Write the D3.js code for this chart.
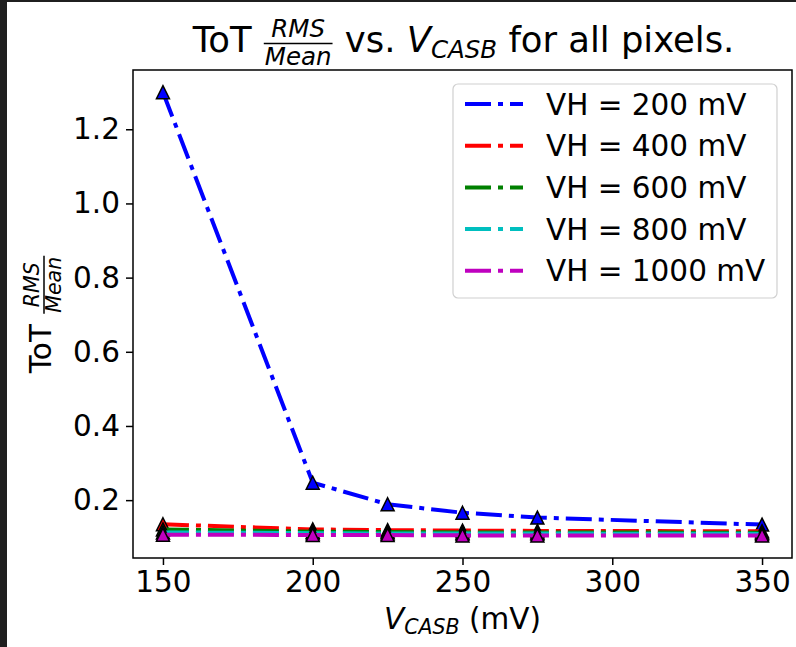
<!DOCTYPE html>
<html><head><meta charset="utf-8">
<script src="https://cdn.jsdelivr.net/npm/d3@7"></script>
<style>
body{margin:0;background:#fff;}
text{font-family:"DejaVu Sans",sans-serif;fill:#000;}
</style></head>
<body>
<svg id="chart" width="796" height="647"></svg>
<script>
const vcasb = [150, 200, 225, 250, 275, 350];
const seriesNames = ["VH = 200 mV", "VH = 400 mV", "VH = 600 mV", "VH = 800 mV", "VH = 1000 mV"];
const vh200  = [1.300, 0.247, 0.189, 0.166, 0.153, 0.134];
const vh400  = [0.135, 0.121, 0.119, 0.118, 0.117, 0.116];
const vh600  = [0.121, 0.115, 0.114, 0.113, 0.113, 0.112];
const vh800  = [0.113, 0.111, 0.110, 0.110, 0.110, 0.109];
const vh1000 = [0.107, 0.106, 0.106, 0.105, 0.105, 0.105];
const seriesValues = [vh200, vh400, vh600, vh800, vh1000];
const colors = ["#0000ff", "#ff0000", "#008000", "#00bfbf", "#bf00bf"];
const xTicks = [150, 200, 250, 300, 350];
const yTicks = [0.2, 0.4, 0.6, 0.8, 1.0, 1.2];

const svg = d3.select("#chart");
// dark frame of the screenshot
svg.append("rect").attr("x",0).attr("y",0).attr("width",796).attr("height",647).attr("fill","#1f1f1f");
svg.append("rect").attr("x",7).attr("y",2).attr("width",789).attr("height",645).attr("fill","#fff");

const L=133, R=792, T=70, B=558;
const x = d3.scaleLinear().domain([140,360]).range([L,R]);
const y = d3.scaleLinear().domain([0.044,1.3598]).range([B,T]);

const BASE = 29.5;
// axes
const gx = svg.append("g").attr("transform",`translate(0,${B})`)
  .call(d3.axisBottom(x).tickValues(xTicks).tickFormat(d3.format("d")).tickSize(7).tickPadding(6));
const gy = svg.append("g").attr("transform",`translate(${L},0)`)
  .call(d3.axisLeft(y).tickValues(yTicks).tickFormat(d3.format(".1f")).tickSize(7).tickPadding(6));
[gx,gy].forEach(g=>{
  g.select(".domain").remove();
  g.selectAll("line").attr("stroke","#000").attr("stroke-width",1.5);
  g.selectAll("text").style("font-size",BASE+"px").style("font-family","DejaVu Sans").attr("fill","#000");
});
svg.append("rect").attr("x",L).attr("y",T).attr("width",R-L).attr("height",B-T)
  .attr("fill","none").attr("stroke","#000").attr("stroke-width",1.5);

const dash = "26,7,5,7";
const line = d3.line().x((d,i)=>x(vcasb[i])).y(d=>y(d));
const tri = s => `M0,${-s/2}L${s/2},${s/2}L${-s/2},${s/2}Z`;
const plot = svg.append("g");
seriesValues.forEach((vals,k)=>{
  plot.append("path").datum(vals).attr("d",line).attr("fill","none")
    .attr("stroke",colors[k]).attr("stroke-width",4).attr("stroke-dasharray",dash);
  plot.selectAll(null).data(vals).enter().append("path")
    .attr("d",tri(13)).attr("transform",(d,i)=>`translate(${x(vcasb[i])},${y(d)})`)
    .attr("fill",colors[k]).attr("stroke","#000").attr("stroke-width",1.5).attr("stroke-linejoin","miter");
});

// legend
const lg = svg.append("g");
lg.append("rect").attr("x",453).attr("y",84).attr("width",324).attr("height",214).attr("rx",5)
  .attr("fill","#fff").attr("fill-opacity",0.8).attr("stroke","#d0d0d0").attr("stroke-width",1.2);
seriesNames.forEach((n,k)=>{
  const cy = 104 + k*41.7;
  lg.append("line").attr("x1",465).attr("x2",523).attr("y1",cy).attr("y2",cy)
    .attr("stroke",colors[k]).attr("stroke-width",4).attr("stroke-dasharray",dash);
  lg.append("text").attr("x",546).attr("y",cy).attr("dy","0.36em").style("font-size",BASE+"px").text(n);
});

// rich text helper
function rich(g, parts){
  let cx = 0;
  parts.forEach(p=>{
    if(p.frac){
      const a = g.append("text").attr("y",p.numY).style("font-size",p.size+"px").style("font-style","italic").attr("text-anchor","middle").text(p.frac[0]);
      const b = g.append("text").attr("y",p.denY).style("font-size",p.size+"px").style("font-style","italic").attr("text-anchor","middle").text(p.frac[1]);
      const w = Math.max(a.node().getComputedTextLength(), b.node().getComputedTextLength()) + 4;
      a.attr("x",cx+w/2); b.attr("x",cx+w/2);
      g.append("line").attr("x1",cx+1).attr("x2",cx+w-1).attr("y1",p.lineY).attr("y2",p.lineY).attr("stroke","#000").attr("stroke-width",1.5);
      cx += w;
    } else {
      const t = g.append("text").attr("x",cx).attr("y",p.dy||0).style("font-size",p.size+"px")
        .style("font-style",p.it?"italic":"normal").attr("xml:space","preserve").text(p.t);
      cx += t.node().getComputedTextLength();
    }
  });
  return cx;
}

// title
const TS = 35.4, TSS = 24.5;
const tg = svg.append("g");
const tw = rich(tg, [
  {t:"ToT ", size:TS},
  {frac:["RMS","Mean"], size:TSS, numY:-15, denY:12.5, lineY:-8.5},
  {t:" vs. ", size:TS},
  {t:"V", size:TS, it:true},
  {t:"CASB", size:TSS, it:true, dy:6},
  {t:" for all pixels.", size:TS}
]);
tg.attr("transform",`translate(${(L+R)/2 + 1 - tw/2},52)`);

// x label
const SS = 20.5;
const xg = svg.append("g");
const xw = rich(xg, [
  {t:"V", size:BASE, it:true},
  {t:"CASB", size:SS, it:true, dy:5},
  {t:" (mV)", size:BASE}
]);
xg.attr("transform",`translate(${(L+R)/2 - xw/2},629)`);

// y label
const yg = svg.append("g");
const yw = rich(yg, [
  {t:"ToT ", size:BASE},
  {frac:["RMS","Mean"], size:SS, numY:-12.5, denY:10, lineY:-7}
]);
yg.attr("transform",`translate(51,${(T+B)/2 + yw/2}) rotate(-90)`);
</script>
</body></html>
